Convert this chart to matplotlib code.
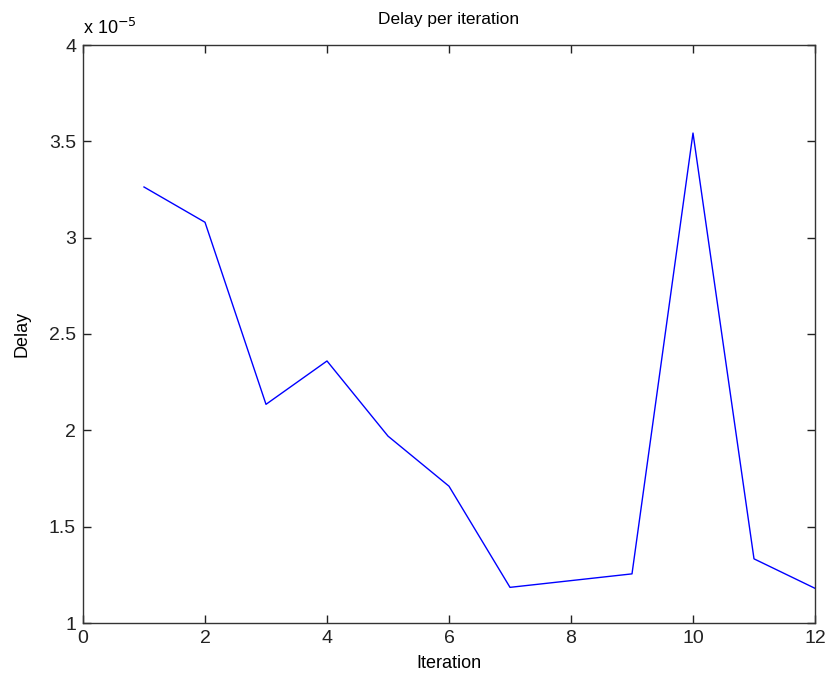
import matplotlib
matplotlib.use("Agg")
import matplotlib.pyplot as plt
from matplotlib.ticker import FuncFormatter

iterations = [1, 2, 3, 4, 5, 6, 7, 8, 9, 10, 11, 12]
delay = [3.263e-5, 3.08e-5, 2.135e-5, 2.36e-5, 1.97e-5, 1.71e-5,
         1.185e-5, 1.22e-5, 1.255e-5, 3.543e-5, 1.333e-5, 1.18e-5]

xticks = [0, 2, 4, 6, 8, 10, 12]
yticks = [1e-5, 1.5e-5, 2e-5, 2.5e-5, 3e-5, 3.5e-5, 4e-5]

plt.rcParams['font.family'] = ['Liberation Sans', 'DejaVu Sans']

fig = plt.figure(figsize=(8.3, 6.84), dpi=100)
ax = fig.add_axes([83/830, 61/684, (815-83)/830, (623-45)/684])
ax.plot(iterations, delay, color='#0000ff', lw=1.0)
ax.set_xlim(0, 12)
ax.set_ylim(1e-5, 4e-5)
ax.set_xticks(xticks)
ax.set_yticks(yticks)
ax.yaxis.set_major_formatter(FuncFormatter(lambda v, p: '%g' % round(v / 1e-5, 3)))
ax.tick_params(direction='in', top=True, right=True, length=6, width=1,
               labelsize=14, pad=5, colors='#222222')
for s in ax.spines.values():
    s.set_linewidth(1.0)
    s.set_color('#333333')
ax.set_xlabel('Iteration', fontsize=13, labelpad=6)
ax.set_ylabel('Delay', fontsize=13, labelpad=13)
ax.set_title('Delay per iteration', fontsize=12.5, pad=15)
ax.text(0, 1.012, r'x 10$^{-5}$', transform=ax.transAxes, fontsize=13,
        ha='left', va='bottom')
fig.savefig('out.png', dpi=100)
